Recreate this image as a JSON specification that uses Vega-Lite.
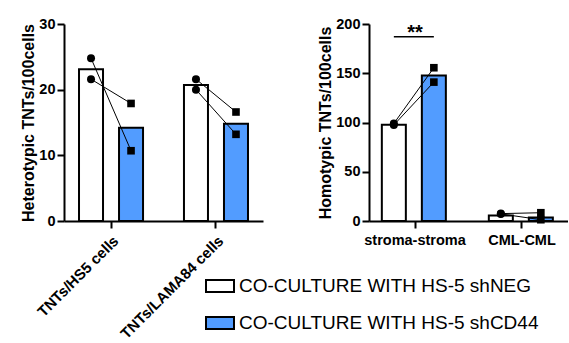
{
  "$schema": "https://vega.github.io/schema/vega-lite/v6.json",
  "padding": {"left": 20, "top": 16, "right": 0, "bottom": 0},
  "spacing": 54,
  "config": {
    "font": "Liberation Sans",
    "view": {"stroke": null},
    "axis": {
      "domainColor": "black", "domainWidth": 2,
      "tickColor": "black", "tickWidth": 2, "tickSize": 7,
      "labelColor": "black", "labelFontSize": 14.5, "labelFontWeight": "bold", "labelFont": "Liberation Sans",
      "titleFontSize": 16, "titleFontWeight": "bold", "titleColor": "black", "titleFont": "Liberation Sans",
      "grid": false, "labelPadding": 2, "titlePadding": 2
    },
    "legend": {
      "symbolType": "M-1,-0.43L1,-0.43L1,0.43L-1,0.43Z",
      "symbolSize": 784,
      "symbolStrokeWidth": 2, "symbolStrokeColor": "black",
      "labelFontSize": 19, "labelFont": "Liberation Sans", "labelColor": "black",
      "labelOffset": 4, "rowPadding": 11, "labelLimit": 400
    }
  },
  "datasets": {
    "bars": [
      {"panel": "hetero", "cat": "TNTs/HS5 cells", "group": "CO-CULTURE WITH HS-5 shNEG", "value": 23.1},
      {"panel": "hetero", "cat": "TNTs/HS5 cells", "group": "CO-CULTURE WITH HS-5 shCD44", "value": 14.2},
      {"panel": "hetero", "cat": "TNTs/LAMA84 cells", "group": "CO-CULTURE WITH HS-5 shNEG", "value": 20.7},
      {"panel": "hetero", "cat": "TNTs/LAMA84 cells", "group": "CO-CULTURE WITH HS-5 shCD44", "value": 14.8},
      {"panel": "homo", "cat": "stroma-stroma", "group": "CO-CULTURE WITH HS-5 shNEG", "value": 97.8},
      {"panel": "homo", "cat": "stroma-stroma", "group": "CO-CULTURE WITH HS-5 shCD44", "value": 147.8},
      {"panel": "homo", "cat": "CML-CML", "group": "CO-CULTURE WITH HS-5 shNEG", "value": 5.5},
      {"panel": "homo", "cat": "CML-CML", "group": "CO-CULTURE WITH HS-5 shCD44", "value": 3.5}
    ],
    "points": [
      {"panel": "hetero", "cat": "TNTs/HS5 cells", "rep": "a", "group": "CO-CULTURE WITH HS-5 shNEG", "value": 24.8},
      {"panel": "hetero", "cat": "TNTs/HS5 cells", "rep": "a", "group": "CO-CULTURE WITH HS-5 shCD44", "value": 10.7},
      {"panel": "hetero", "cat": "TNTs/HS5 cells", "rep": "b", "group": "CO-CULTURE WITH HS-5 shNEG", "value": 21.6},
      {"panel": "hetero", "cat": "TNTs/HS5 cells", "rep": "b", "group": "CO-CULTURE WITH HS-5 shCD44", "value": 17.9},
      {"panel": "hetero", "cat": "TNTs/LAMA84 cells", "rep": "a", "group": "CO-CULTURE WITH HS-5 shNEG", "value": 21.6},
      {"panel": "hetero", "cat": "TNTs/LAMA84 cells", "rep": "a", "group": "CO-CULTURE WITH HS-5 shCD44", "value": 16.6},
      {"panel": "hetero", "cat": "TNTs/LAMA84 cells", "rep": "b", "group": "CO-CULTURE WITH HS-5 shNEG", "value": 20.0},
      {"panel": "hetero", "cat": "TNTs/LAMA84 cells", "rep": "b", "group": "CO-CULTURE WITH HS-5 shCD44", "value": 13.2},
      {"panel": "homo", "cat": "stroma-stroma", "rep": "a", "group": "CO-CULTURE WITH HS-5 shNEG", "value": 99.0},
      {"panel": "homo", "cat": "stroma-stroma", "rep": "a", "group": "CO-CULTURE WITH HS-5 shCD44", "value": 155.6},
      {"panel": "homo", "cat": "stroma-stroma", "rep": "b", "group": "CO-CULTURE WITH HS-5 shNEG", "value": 97.5},
      {"panel": "homo", "cat": "stroma-stroma", "rep": "b", "group": "CO-CULTURE WITH HS-5 shCD44", "value": 141.0},
      {"panel": "homo", "cat": "CML-CML", "rep": "a", "group": "CO-CULTURE WITH HS-5 shNEG", "value": 7.5},
      {"panel": "homo", "cat": "CML-CML", "rep": "a", "group": "CO-CULTURE WITH HS-5 shCD44", "value": 8.4},
      {"panel": "homo", "cat": "CML-CML", "rep": "b", "group": "CO-CULTURE WITH HS-5 shNEG", "value": 7.2},
      {"panel": "homo", "cat": "CML-CML", "rep": "b", "group": "CO-CULTURE WITH HS-5 shCD44", "value": 1.3}
    ],
    "sigline": [
      {"cat": "stroma-stroma", "group": "CO-CULTURE WITH HS-5 shNEG", "value": 187},
      {"cat": "stroma-stroma", "group": "CO-CULTURE WITH HS-5 shCD44", "value": 187}
    ],
    "sigtext": [
      {"cat": "stroma-stroma", "value": 191, "label": "**"}
    ]
  },
  "hconcat": [
    {
      "width": 199,
      "height": 197,
      "layer": [
        {
          "data": {"name": "bars"},
          "transform": [{"filter": "datum.panel === 'hetero'"}],
          "mark": {"type": "bar", "stroke": "black", "strokeWidth": 2},
          "encoding": {
            "x": {"field": "cat", "type": "nominal", "sort": ["TNTs/HS5 cells", "TNTs/LAMA84 cells"],
                  "scale": {"paddingInner": 0.39, "paddingOuter": 0.143},
                  "axis": {"title": null, "labelAngle": -45, "labelPadding": 5, "labelFontSize": 15}},
            "xOffset": {"field": "group", "type": "nominal", "sort": ["CO-CULTURE WITH HS-5 shNEG", "CO-CULTURE WITH HS-5 shCD44"],
                        "scale": {"paddingInner": 0.4, "paddingOuter": 0}},
            "y": {"field": "value", "type": "quantitative", "scale": {"domain": [0, 30]},
                  "axis": {"values": [0, 10, 20, 30], "title": "Heterotypic TNTs/100cells"}},
            "fill": {"field": "group", "type": "nominal",
                     "scale": {"domain": ["CO-CULTURE WITH HS-5 shNEG", "CO-CULTURE WITH HS-5 shCD44"], "range": ["white", "#529CFF"]},
                     "legend": {"title": null, "orient": "none", "legendX": 141, "legendY": 247}}
          }
        },
        {
          "data": {"name": "points"},
          "transform": [{"filter": "datum.panel === 'hetero'"}],
          "mark": {"type": "line", "color": "black", "strokeWidth": 1},
          "encoding": {
            "x": {"field": "cat", "type": "nominal", "sort": ["TNTs/HS5 cells", "TNTs/LAMA84 cells"]},
            "xOffset": {"field": "group", "type": "nominal", "sort": ["CO-CULTURE WITH HS-5 shNEG", "CO-CULTURE WITH HS-5 shCD44"]},
            "y": {"field": "value", "type": "quantitative"},
            "detail": [{"field": "cat", "type": "nominal"}, {"field": "rep", "type": "nominal"}]
          }
        },
        {
          "data": {"name": "points"},
          "transform": [{"filter": "datum.panel === 'hetero' && datum.group === 'CO-CULTURE WITH HS-5 shNEG'"}],
          "mark": {"type": "point", "shape": "circle", "filled": true, "color": "black", "opacity": 1, "size": 64},
          "encoding": {
            "x": {"field": "cat", "type": "nominal", "sort": ["TNTs/HS5 cells", "TNTs/LAMA84 cells"]},
            "xOffset": {"field": "group", "type": "nominal", "sort": ["CO-CULTURE WITH HS-5 shNEG", "CO-CULTURE WITH HS-5 shCD44"]},
            "y": {"field": "value", "type": "quantitative"}
          }
        },
        {
          "data": {"name": "points"},
          "transform": [{"filter": "datum.panel === 'hetero' && datum.group === 'CO-CULTURE WITH HS-5 shCD44'"}],
          "mark": {"type": "point", "shape": "square", "filled": true, "color": "black", "opacity": 1, "size": 58},
          "encoding": {
            "x": {"field": "cat", "type": "nominal", "sort": ["TNTs/HS5 cells", "TNTs/LAMA84 cells"]},
            "xOffset": {"field": "group", "type": "nominal", "sort": ["CO-CULTURE WITH HS-5 shNEG", "CO-CULTURE WITH HS-5 shCD44"]},
            "y": {"field": "value", "type": "quantitative"}
          }
        }
      ]
    },
    {
      "width": 199,
      "height": 197,
      "layer": [
        {
          "data": {"name": "bars"},
          "transform": [{"filter": "datum.panel === 'homo'"}],
          "mark": {"type": "bar", "stroke": "black", "strokeWidth": 2},
          "encoding": {
            "x": {"field": "cat", "type": "nominal", "sort": ["stroma-stroma", "CML-CML"],
                  "scale": {"paddingInner": 0.38, "paddingOuter": 0.12},
                  "axis": {"title": null, "labelAngle": 0, "labelPadding": 5}},
            "xOffset": {"field": "group", "type": "nominal", "sort": ["CO-CULTURE WITH HS-5 shNEG", "CO-CULTURE WITH HS-5 shCD44"],
                        "scale": {"paddingInner": 0.375, "paddingOuter": 0}},
            "y": {"field": "value", "type": "quantitative", "scale": {"domain": [0, 200]},
                  "axis": {"values": [0, 50, 100, 150, 200], "title": "Homotypic TNTs/100cells"}},
            "fill": {"field": "group", "type": "nominal",
                     "scale": {"domain": ["CO-CULTURE WITH HS-5 shNEG", "CO-CULTURE WITH HS-5 shCD44"], "range": ["white", "#529CFF"]},
                     "legend": {"title": null, "orient": "none", "legendX": 141, "legendY": 247}}
          }
        },
        {
          "data": {"name": "points"},
          "transform": [{"filter": "datum.panel === 'homo'"}],
          "mark": {"type": "line", "color": "black", "strokeWidth": 1},
          "encoding": {
            "x": {"field": "cat", "type": "nominal", "sort": ["stroma-stroma", "CML-CML"]},
            "xOffset": {"field": "group", "type": "nominal", "sort": ["CO-CULTURE WITH HS-5 shNEG", "CO-CULTURE WITH HS-5 shCD44"]},
            "y": {"field": "value", "type": "quantitative"},
            "detail": [{"field": "cat", "type": "nominal"}, {"field": "rep", "type": "nominal"}]
          }
        },
        {
          "data": {"name": "points"},
          "transform": [{"filter": "datum.panel === 'homo' && datum.group === 'CO-CULTURE WITH HS-5 shNEG'"}],
          "mark": {"type": "point", "shape": "circle", "filled": true, "color": "black", "opacity": 1, "size": 64},
          "encoding": {
            "x": {"field": "cat", "type": "nominal", "sort": ["stroma-stroma", "CML-CML"]},
            "xOffset": {"field": "group", "type": "nominal", "sort": ["CO-CULTURE WITH HS-5 shNEG", "CO-CULTURE WITH HS-5 shCD44"]},
            "y": {"field": "value", "type": "quantitative"}
          }
        },
        {
          "data": {"name": "points"},
          "transform": [{"filter": "datum.panel === 'homo' && datum.group === 'CO-CULTURE WITH HS-5 shCD44'"}],
          "mark": {"type": "point", "shape": "square", "filled": true, "color": "black", "opacity": 1, "size": 58},
          "encoding": {
            "x": {"field": "cat", "type": "nominal", "sort": ["stroma-stroma", "CML-CML"]},
            "xOffset": {"field": "group", "type": "nominal", "sort": ["CO-CULTURE WITH HS-5 shNEG", "CO-CULTURE WITH HS-5 shCD44"]},
            "y": {"field": "value", "type": "quantitative"}
          }
        },
        {
          "data": {"name": "sigline"},
          "mark": {"type": "line", "color": "black", "strokeWidth": 1.5},
          "encoding": {
            "x": {"field": "cat", "type": "nominal", "sort": ["stroma-stroma", "CML-CML"]},
            "xOffset": {"field": "group", "type": "nominal", "sort": ["CO-CULTURE WITH HS-5 shNEG", "CO-CULTURE WITH HS-5 shCD44"]},
            "y": {"field": "value", "type": "quantitative"}
          }
        },
        {
          "data": {"name": "sigtext"},
          "mark": {"type": "text", "fontSize": 20, "fontWeight": "bold", "color": "black", "baseline": "middle", "font": "Liberation Sans"},
          "encoding": {
            "x": {"field": "cat", "type": "nominal", "sort": ["stroma-stroma", "CML-CML"]},
            "y": {"field": "value", "type": "quantitative"},
            "text": {"field": "label"}
          }
        }
      ]
    }
  ]
}
